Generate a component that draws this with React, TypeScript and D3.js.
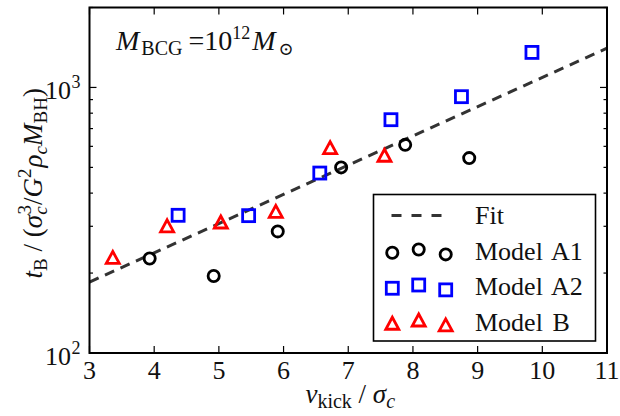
import { useEffect, useRef } from "react";
import * as d3 from "d3";

const xTicks = [3, 4, 5, 6, 7, 8, 9, 10, 11];
const yMajor = [100, 1000];
const yMinor = [200, 300, 400, 500, 600, 700, 800, 900, 2000];

const modelA1X = [3.93, 4.92, 5.91, 6.89, 7.88, 8.87];
const modelA1Y = [227, 195, 287, 500, 608, 542];
const modelA2X = [4.37, 5.46, 6.56, 7.66, 8.75, 9.84];
const modelA2Y = [330, 329, 476, 756, 923, 1355];
const modelBX = [3.36, 4.2, 5.03, 5.88, 6.72, 7.56];
const modelBY = [228, 300, 310, 340, 591, 553];

const fitX = [3, 11];
const fitY = [185, 1405];

const FONT = "'Liberation Serif', 'Times New Roman', 'DejaVu Serif', serif";

type Seg = { t: string; i?: boolean; s?: number; dx?: number; fs?: number };

function richText(sel: any, segs: Seg[], base: number) {
  let cur = 0;
  segs.forEach((sg) => {
    const shift = sg.s || 0;
    const ts = sel.append("tspan").text(sg.t)
      .style("font-style", sg.i ? "italic" : "normal")
      .style("font-size", `${sg.fs || base}px`)
      .attr("dy", shift - cur);
    if (sg.dx) ts.attr("dx", sg.dx);
    cur = shift;
  });
}

export default function App() {
  const svgRef = useRef<SVGSVGElement>(null);

  useEffect(() => {
    document.body.style.margin = "0";
    const W = 620, H = 416;
    const m = { top: 7.5, right: 13, bottom: 63, left: 89.5 };
    const iW = W - m.left - m.right;
    const iH = H - m.top - m.bottom;

    const svg = d3.select(svgRef.current);
    svg.selectAll("*").remove();
    svg.attr("viewBox", `0 0 ${W} ${H}`);
    svg.append("rect").attr("width", W).attr("height", H).attr("fill", "#fff");

    const txt = (sel: any) => sel.append("text").style("font-family", FONT).attr("fill", "#111");

    const g = svg.append("g").attr("transform", `translate(${m.left},${m.top})`);
    const x = d3.scaleLinear().domain([3, 11]).range([0, iW]);
    const y = d3.scaleLog().domain([100, 2000]).range([iH, 0]);

    // fit line
    const line = d3.line<number>().x((d, i) => x(fitX[i])).y((d) => y(d));
    g.append("path").datum(fitY).attr("d", line)
      .attr("fill", "none").attr("stroke", "#333").attr("stroke-width", 3)
      .attr("stroke-dasharray", "10,7");

    const circle = (sel: any, cx: number, cy: number) =>
      sel.append("circle").attr("cx", cx).attr("cy", cy).attr("r", 5.6)
        .attr("fill", "none").attr("stroke", "#000").attr("stroke-width", 2.8);
    const square = (sel: any, cx: number, cy: number) =>
      sel.append("rect").attr("x", cx - 6).attr("y", cy - 6).attr("width", 12).attr("height", 12)
        .attr("fill", "none").attr("stroke", "#0000ff").attr("stroke-width", 2.8);
    const tri = (sel: any, cx: number, cy: number) =>
      sel.append("path")
        .attr("d", `M${cx},${cy - 6.5}L${cx + 6.5},${cy + 5.5}L${cx - 6.5},${cy + 5.5}Z`)
        .attr("fill", "none").attr("stroke", "#ff0000").attr("stroke-width", 2.8)
        .attr("stroke-linejoin", "miter");

    modelA1X.forEach((v, i) => circle(g, x(v), y(modelA1Y[i])));
    modelA2X.forEach((v, i) => square(g, x(v), y(modelA2Y[i])));
    modelBX.forEach((v, i) => tri(g, x(v), y(modelBY[i])));

    // ticks (inward, all four sides)
    const tk = g.append("g").attr("stroke", "#000").attr("stroke-width", 1.2);
    xTicks.forEach((t) => {
      tk.append("line").attr("x1", x(t)).attr("x2", x(t)).attr("y1", iH).attr("y2", iH - 7);
      tk.append("line").attr("x1", x(t)).attr("x2", x(t)).attr("y1", 0).attr("y2", 7);
    });
    yMajor.forEach((t) => {
      tk.append("line").attr("x1", 0).attr("x2", 7).attr("y1", y(t)).attr("y2", y(t));
      tk.append("line").attr("x1", iW).attr("x2", iW - 7).attr("y1", y(t)).attr("y2", y(t));
    });
    yMinor.forEach((t) => {
      tk.append("line").attr("x1", 0).attr("x2", 3.5).attr("y1", y(t)).attr("y2", y(t));
      tk.append("line").attr("x1", iW).attr("x2", iW - 3.5).attr("y1", y(t)).attr("y2", y(t));
    });

    g.append("rect").attr("width", iW).attr("height", iH)
      .attr("fill", "none").attr("stroke", "#000").attr("stroke-width", 2);

    // tick labels
    xTicks.forEach((t) => {
      txt(g).attr("x", x(t)).attr("y", iH + 26).attr("text-anchor", "middle")
        .style("font-size", "26px").text(t);
    });
    yMajor.forEach((t) => {
      txt(g).attr("x", -18.5).attr("y", y(t) + 12).attr("text-anchor", "end")
        .style("font-size", "26px").text("10");
      txt(g).attr("x", -18).attr("y", y(t) + 0.5).style("font-size", "18px")
        .text(Math.round(Math.log10(t)));
    });

    // axis labels
    const xl = txt(svg).attr("x", m.left + iW / 2 + 2).attr("y", 403).attr("text-anchor", "middle");
    richText(xl, [
      { t: "v", i: true }, { t: "kick", s: 5, fs: 20 }, { t: " / ", s: 0 },
      { t: "σ", i: true }, { t: "c", i: true, s: 5, fs: 20 },
    ], 27);

    const yl = txt(svg).attr("transform", `translate(42,${m.top + iH / 2 + 3}) rotate(-90)`)
      .attr("text-anchor", "middle");
    richText(yl, [
      { t: "t", i: true }, { t: "B", s: 5, fs: 19 }, { t: " / (", s: 0 },
      { t: "σ", i: true }, { t: "c", i: true, s: 5, fs: 19 }, { t: "3", s: -11, fs: 19, dx: -8 },
      { t: "/", s: 0 }, { t: "G", i: true }, { t: "2", s: -11, fs: 19 },
      { t: "ρ", i: true, s: 0, dx: 1 }, { t: "c", i: true, s: 5, fs: 19 },
      { t: "M", i: true, s: 0 }, { t: "BH", s: 5, fs: 19 }, { t: ")", s: 0 },
    ], 27);

    // annotation
    const an = txt(svg).attr("x", 116).attr("y", 50);
    richText(an, [
      { t: "M", i: true }, { t: "BCG", s: 5, fs: 20, dx: 2 }, { t: "=10", s: 0, dx: 6 },
      { t: "12", s: -11, fs: 18 }, { t: "M", i: true, s: 0, dx: 2 }, { t: "⊙", s: 5, fs: 18, dx: 3 },
    ], 28);

    // legend
    const lg = svg.append("g");
    lg.append("rect").attr("x", 373.5).attr("y", 194.5).attr("width", 222).attr("height", 146.5)
      .attr("fill", "#fff").attr("stroke", "#000").attr("stroke-width", 1.6);
    const rows = [215.5, 251, 286.5, 322];
    const labels = ["Fit", "Model A1", "Model A2", "Model B"];
    const hx = [392.3, 418.7, 445.7];
    const hOff = [0.375, 0.5, 0.3125];
    rows.forEach((cy, i) => {
      txt(lg).attr("x", 475).attr("y", cy + 8.5).style("font-size", "26px")
        .style("word-spacing", "3px").text(labels[i]);
    });
    lg.append("line").attr("x1", 391.5).attr("x2", 446).attr("y1", rows[0]).attr("y2", rows[0])
      .attr("stroke", "#333").attr("stroke-width", 3).attr("stroke-dasharray", "10,10");
    const drawers = [circle, square, tri];
    drawers.forEach((fn, k) => {
      hx.forEach((px, j) => fn(lg, px, rows[k + 1] - 1.5 + (0.5 - hOff[j]) * 26));
    });
  }, []);

  return <svg ref={svgRef} width={620} height={416} style={{ display: "block" }} />;
}
